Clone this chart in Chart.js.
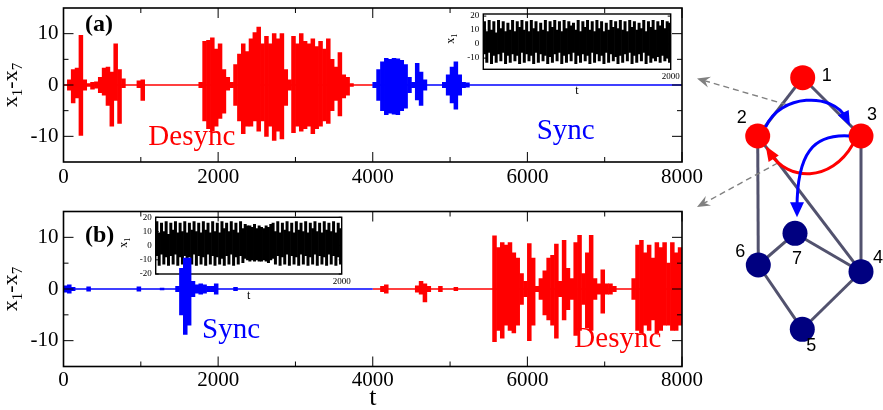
<!DOCTYPE html>
<html>
<head>
<meta charset="utf-8">
<script src="https://cdn.jsdelivr.net/npm/chart.js@4/dist/chart.umd.min.js"></script>
<style>
  body { margin: 0; background: #fff; }
  #wrap { position: relative; width: 883px; height: 410px; overflow: hidden; }
  canvas { position: absolute; }
</style>
</head>
<body>
<div id="wrap">
  <canvas id="insetA" style="left:430px;top:5px" width="260" height="95"></canvas>
  <canvas id="insetB" style="left:100px;top:210px" width="260" height="95"></canvas>
  <canvas id="panelA" style="left:0;top:0" width="720" height="200"></canvas>
  <canvas id="panelB" style="left:0;top:200px" width="720" height="210"></canvas>
  <canvas id="net" style="left:690px;top:50px" width="193" height="310"></canvas>
</div>
<script>
const SERIF = '"Liberation Serif", "Times New Roman", serif';
const SANS = '"Liberation Sans", Arial, sans-serif';
const RED = '#ff0000', BLUE = '#0000ff', NAVY = '#000080';

// axes of the two main panels
const xTicks = [0, 2000, 4000, 6000, 8000];
const yTicks = [-10, 0, 10];

// panel (a): envelope of x1-x7, 50-wide bins (bin centre, max, min)
const tA = [75,125,175,225,275,325,375,425,475,525,575,625,675,725,775,
  975,1025,
  1775,1825,1875,1925,1975,2025,2075,2125,2175,2225,2275,2325,2375,2425,2475,2525,2575,2625,2675,2725,
  2775,2825,2875,2925,2975,3025,3075,3125,3175,3225,3275,3325,3375,3425,3475,3525,3575,3625,3675,3725,
  4025,4075,4125,4175,4225,4275,4325,4375,4425,4475,4525,4575,4625,4675,
  4925,4975,5025,5075,5125,5175,5225];
const hiA = [1,3,3.3,9.7,1,0.3,0.5,0.6,1.5,3.3,3.5,2.5,8,3,1.2,
  0.8,1,
  0.5,8.5,8.7,9.2,7,8,3,1.5,0.5,4,6,8,6.5,9,10.2,11.3,8,9.5,8,10,
  9,10,3,1,9.5,8,10,8.5,8,9,7.5,8.5,7,9,5,3.5,6.3,2,1.5,0.3,
  0.5,3,4.5,5.2,5,5.2,5.1,4.8,4,1.5,0.5,4.2,2.5,1,
  0.5,2,3.5,4.5,2,0.5,0.4];
const loA = [-1,-3.5,-2.5,-9.8,-1,-0.3,-0.8,-0.6,-1.5,-2,-4,-8,-3,-7.5,-0.5,
  -0.5,-3,
  -0.5,-7,-8.5,-9,-8,-6.5,-5.5,-1,-0.5,-4,-7,-9.5,-8,-8,-7,-9,-7,-10,-8,-10.8,
  -9,-10.5,-4,-1,-9.3,-8,-9,-8.5,-8,-9.5,-8.5,-8,-7,-7.5,-5,-3,-6,-2.5,-2,-0.3,
  -0.5,-3,-5,-5.8,-5.5,-5.7,-5.8,-5,-4.5,-1.5,-0.5,-2.9,-4,-1,
  -0.5,-2,-3.5,-4.7,-2,-0.5,-0.4];
const switchA = 4000; // desync (red) before, sync (blue) after

// panel (b)
const tB = [25,75,125,325,975,1275,1475,1525,1575,1625,1675,1725,1775,1825,1875,1925,1975,2225,
  4125,4175,4575,4625,4675,4725,4875,5075,
  5575,5625,5675,5725,5775,5825,5875,5925,5975,6025,
  6075,6125,6175,6225,6275,6325,6375,6425,6475,6525,
  6575,6625,6675,6725,6775,6825,6875,6925,6975,7025,
  7075,7125,
  7375,7425,7475,7525,7575,7625,7675,7725,7775,7825,7875,7925,7975];
const hiB = [0.6,0.8,0.3,0.4,0.4,0.2,0.5,4,6,6,1.5,0.8,1,0.8,0.5,0.5,1,0.3,
  0.5,0.8,0.6,1.5,1,0.5,0.5,0.3,
  10.3,8,9,8.5,9,7,6,3,1.5,8.8,
  6,0.5,2,3.5,6,6.5,8.7,1.5,9.4,4,
  2,9,10.4,3,7,10.4,2,1,3.7,1,
  1,0.5,
  2,8.5,9.4,7,8.5,6,9,8,9,5,9,7,8];
const loB = [-0.6,-0.8,-0.3,-0.4,-0.4,-0.2,-0.5,-5,-8.8,-7,-1.5,-0.8,-1,-0.8,-0.5,-0.5,-1,-0.3,
  -0.5,-0.8,-0.6,-1,-2.5,-0.5,-0.5,-0.3,
  -10.2,-8,-9.5,-7,-8,-8.5,-7,-3,-1.5,-10,
  -7,-0.5,-2,-5,-6,-7,-9.5,-1.5,-6,-4,
  -2,-9,-8,-3,-7.5,-8,-2,-1,-4.7,-1,
  -1,-0.5,
  -2,-8,-8.5,-7,-8,-6,-8.5,-8,-7,-7,-8,-8,-7];
const switchB = 4000; // sync (blue) before, desync (red) after

// insets: x1 over 0..2000, 25-wide bins
const insetBin = 25;
const inAHi = [16,9,17,10,16,8,17,11,16,9,15,10,17,9,16,12,17,10,16,9,
  17,11,16,9,15,10,17,9,16,12,17,10,16,9,17,11,16,13,15,10,
  17,9,16,12,17,10,16,9,17,11,16,9,15,10,17,12,16,11,17,10,
  16,9,17,12,16,10,15,11,17,9,16,12,17,10,16,13,17,11,16,15];
const inALo = [-7,-13,-6,-14,-8,-13,-7,-12,-6,-14,-8,-13,-7,-12,-8,-14,-6,-13,-7,-12,
  -8,-14,-6,-13,-7,-12,-8,-14,-9,-13,-7,-12,-6,-14,-8,-13,-7,-12,-6,-14,
  -8,-13,-7,-12,-8,-14,-6,-13,-7,-12,-8,-14,-6,-13,-7,-12,-9,-14,-8,-13,
  -7,-12,-6,-14,-8,-13,-7,-12,-6,-14,-8,-13,-10,-12,-9,-13,-8,-12,-10,-13];
const inBHi = [17,9,16,10,17,8,16,11,17,9,16,10,17,9,16,11,17,10,16,9,
  17,11,16,9,17,10,16,9,17,12,16,10,17,11,16,9,17,12,15,14,
  14,13,15,12,14,13,12,14,13,15,16,10,17,9,16,11,17,10,16,9,
  17,11,16,10,17,9,16,12,17,10,16,9,17,11,16,10,17,9,16,12];
const inBLo = [-7,-14,-6,-13,-8,-14,-7,-13,-6,-14,-8,-13,-7,-14,-8,-13,-6,-14,-7,-13,
  -8,-14,-6,-13,-7,-14,-8,-13,-9,-14,-7,-13,-6,-14,-8,-13,-7,-12,-9,-10,
  -11,-10,-11,-10,-11,-11,-10,-11,-12,-10,-9,-13,-7,-14,-8,-13,-6,-14,-7,-13,
  -8,-14,-6,-13,-7,-14,-8,-13,-6,-14,-7,-13,-8,-14,-6,-13,-7,-14,-8,-13];
const inATicks = [-10, 0, 10, 20];
const inBTicks = [-20, -10, 0, 10, 20];

// network (layout coordinates)
const nodeX = [802.7, 757.7, 861, 861, 802.3, 758.3, 795];
const nodeY = [77.7, 136, 136, 271.7, 329.3, 265, 233.3];
const nodeSync = [false, false, false, true, true, true, true];
const edges = [[1,2],[1,3],[2,6],[3,4],[2,4],[6,7],[7,4],[6,5],[4,5]];

function fixAxis(dim, size) {
  return s => {
    s[dim] = size;
    s.paddingLeft = s.paddingRight = s.paddingTop = s.paddingBottom = 0;
  };
}

function drawTitle(ctx, cx, cy, parts) {
  ctx.save();
  ctx.translate(cx, cy);
  ctx.rotate(-Math.PI / 2);
  ctx.fillStyle = '#000';
  ctx.textBaseline = 'alphabetic';
  ctx.textAlign = 'left';
  let total = 0;
  parts.forEach(p => { ctx.font = p[1] + 'px ' + SERIF; total += ctx.measureText(p[0]).width; });
  let x = -total / 2;
  parts.forEach(p => {
    ctx.font = p[1] + 'px ' + SERIF;
    ctx.fillText(p[0], x, p[2]);
    x += ctx.measureText(p[0]).width;
  });
  ctx.restore();
}

function frameTicks(chart, lw, major, minor, sides) {
  const {ctx, chartArea: a, scales: {x, y}} = chart;
  ctx.save();
  ctx.strokeStyle = '#000';
  ctx.lineWidth = 1;
  const xs = x.ticks.map(t => t.value), ys = y.ticks.map(t => t.value);
  const mids = v => v.slice(1).map((b, i) => (b + v[i]) / 2);
  ctx.beginPath();
  const hx = (vals, len) => vals.forEach(v => {
    const p = x.getPixelForValue(v);
    ctx.moveTo(p, a.bottom); ctx.lineTo(p, a.bottom - len);
    ctx.moveTo(p, a.top); ctx.lineTo(p, a.top + len);
  });
  const vy = (vals, len) => vals.forEach(v => {
    const p = y.getPixelForValue(v);
    ctx.moveTo(a.left, p); ctx.lineTo(a.left + len, p);
    ctx.moveTo(a.right, p); ctx.lineTo(a.right - len, p);
  });
  if (sides.x) { hx(xs, major); hx(mids(xs), minor); }
  vy(ys, major);
  if (sides.yMinor) vy(mids(ys), minor);
  ctx.stroke();
  ctx.lineWidth = lw;
  ctx.strokeRect(a.left, a.top, a.right - a.left, a.bottom - a.top);
  ctx.restore();
}

function mainPanel(id, o) {
  const W = 720, left = 63.5, right = 682;
  const decor = {
    id: 'decor_' + id,
    afterDraw(chart) {
      const {ctx, chartArea: a, scales: {x, y}} = chart;
      frameTicks(chart, 1.6, 10, 5, {x: true, yMinor: true});
      drawTitle(ctx, 17, (a.top + a.bottom) / 2, [['x', 22, 0], ['1', 15, 5], ['-x', 22, 0], ['7', 15, 5]]);
      ctx.save();
      ctx.font = 'bold 24px ' + SERIF;
      ctx.fillStyle = '#000';
      ctx.textAlign = 'left';
      ctx.textBaseline = 'alphabetic';
      ctx.fillText(o.tag, 85, a.top + o.tagDy);
      ctx.font = '29px ' + SERIF;
      ctx.textAlign = 'center';
      o.notes.forEach(n => {
        ctx.fillStyle = n.color;
        ctx.fillText(n.text, x.getPixelForValue(n.t), y.getPixelForValue(n.v));
      });
      if (o.tTitle) {
        ctx.fillStyle = '#000';
        ctx.font = '26px ' + SERIF;
        ctx.fillText('t', (a.left + a.right) / 2, a.bottom + 38);
      }
      ctx.restore();
    }
  };
  return new Chart(document.getElementById(id), {
    type: 'bar',
    data: {
      datasets: [
        {
          type: 'bar',
          data: o.t.map((v, i) => ({x: v, y: [o.lo[i], o.hi[i]]})),
          backgroundColor: c => (c.raw && c.raw.x < o.sw) ? o.before : o.after,
          barPercentage: 1, categoryPercentage: 1, grouped: false
        },
        {type: 'line', data: [{x: 0, y: 0}, {x: o.sw, y: 0}], borderColor: o.before, borderWidth: 1.3, pointRadius: 0},
        {type: 'line', data: [{x: o.sw, y: 0}, {x: 8000, y: 0}], borderColor: o.after, borderWidth: 1.3, pointRadius: 0}
      ]
    },
    options: {
      responsive: false, animation: false, devicePixelRatio: 1,
      layout: {padding: {left: 0, top: o.top, right: W - right, bottom: 0}, autoPadding: false},
      plugins: {legend: {display: false}, tooltip: {enabled: false}},
      scales: {
        x: {
          type: 'linear', min: 0, max: 8000, offset: false,
          grid: {display: false, drawTicks: false}, border: {display: false},
          afterBuildTicks: s => { s.ticks = xTicks.map(v => ({value: v})); },
          afterFit: fixAxis('height', o.H - o.bottom),
          ticks: {font: {family: SERIF, size: 21}, color: '#000', padding: o.labelPad, maxRotation: 0, autoSkip: false, callback: v => String(v)}
        },
        y: {
          type: 'linear', min: -15, max: 15,
          grid: {display: false, drawTicks: false}, border: {display: false},
          afterBuildTicks: s => { s.ticks = yTicks.map(v => ({value: v})); },
          afterFit: fixAxis('width', left),
          ticks: {font: {family: SERIF, size: 21}, color: '#000', padding: 5, callback: v => String(v)}
        }
      }
    },
    plugins: [decor]
  });
}

function inset(id, o) {
  const decor = {
    id: 'decor_' + id,
    afterDraw(chart) {
      const {ctx, chartArea: a} = chart;
      frameTicks(chart, 1.4, 3, 0, {x: false, yMinor: false});
      drawTitle(ctx, a.left - 29, (a.top + a.bottom) / 2 - 3, [['x', 12, 0], ['1', 8, 3]]);
      ctx.save();
      ctx.fillStyle = '#000';
      ctx.font = '12px ' + SERIF;
      ctx.textAlign = 'center';
      ctx.textBaseline = 'middle';
      ctx.fillText('t', (a.left + a.right) / 2, a.bottom + 22);
      ctx.restore();
    }
  };
  return new Chart(document.getElementById(id), {
    type: 'bar',
    data: {
      datasets: [{
        data: o.hi.map((h, i) => ({x: insetBin * (i + 0.5), y: [o.lo[i], h]})),
        backgroundColor: '#000', barPercentage: 1, categoryPercentage: 1
      }]
    },
    options: {
      responsive: false, animation: false, devicePixelRatio: 1,
      layout: {padding: {left: 0, top: o.top, right: o.right, bottom: 0}, autoPadding: false},
      plugins: {legend: {display: false}, tooltip: {enabled: false}},
      scales: {
        x: {
          type: 'linear', min: 0, max: 2000, offset: false,
          grid: {display: false, drawTicks: false}, border: {display: false},
          afterBuildTicks: s => { s.ticks = [{value: 2000}]; },
          afterFit: fixAxis('height', o.xh),
          ticks: {font: {family: SERIF, size: 9}, color: '#000', padding: 2, maxRotation: 0, callback: v => String(v)}
        },
        y: {
          type: 'linear', min: o.ymin, max: o.ymax,
          grid: {display: false, drawTicks: false}, border: {display: false},
          afterBuildTicks: s => { s.ticks = o.ticks.map(v => ({value: v})); },
          afterFit: fixAxis('width', o.left),
          ticks: {font: {family: SERIF, size: 9}, color: '#000', padding: 4, callback: v => String(v)}
        }
      }
    },
    plugins: [decor]
  });
}

inset('insetA', {hi: inAHi, lo: inALo, ticks: inATicks, ymin: -18, ymax: 21.5, top: 9, right: 19.3, left: 53.3, xh: 30.7});
inset('insetB', {hi: inBHi, lo: inBLo, ticks: inBTicks, ymin: -20, ymax: 20, top: 7.3, right: 18.3, left: 55.7, xh: 31});

mainPanel('panelA', {
  t: tA, hi: hiA, lo: loA, sw: switchA, before: RED, after: BLUE,
  H: 200, top: 8, bottom: 162, labelPad: 3, tag: '(a)', tagDy: 23, tTitle: false,
  notes: [{text: 'Desync', t: 1660, v: -11.7, color: RED}, {text: 'Sync', t: 6495, v: -10.6, color: BLUE}]
});
mainPanel('panelB', {
  t: tB, hi: hiB, lo: loB, sw: switchB, before: BLUE, after: RED,
  H: 210, top: 11.5, bottom: 166.5, labelPad: 1.5, tag: '(b)', tagDy: 30, tTitle: true,
  notes: [{text: 'Sync', t: 2168, v: -9.4, color: BLUE}, {text: 'Desync', t: 7170, v: -11.3, color: RED}]
});

// network of 7 oscillators
const netDecor = {
  id: 'netDecor',
  afterDatasetsDraw(chart) {
    const {ctx, scales: {x, y}} = chart;
    const P = (i, dx = 0, dy = 0) => ({x: x.getPixelForValue(nodeX[i - 1]) + dx, y: y.getPixelForValue(nodeY[i - 1]) + dy});
    const head = (from, tip, len, half, color, stealth) => {
      const dx = tip.x - from.x, dy = tip.y - from.y, d = Math.hypot(dx, dy);
      const ux = dx / d, uy = dy / d;
      const bx = tip.x - ux * len, by = tip.y - uy * len;
      ctx.fillStyle = color;
      ctx.beginPath();
      ctx.moveTo(tip.x, tip.y);
      ctx.lineTo(bx - uy * half, by + ux * half);
      if (stealth) ctx.lineTo(tip.x - ux * len * 0.65, tip.y - uy * len * 0.65);
      ctx.lineTo(bx + uy * half, by - ux * half);
      ctx.closePath();
      ctx.fill();
      return {x: tip.x - ux * len * 0.6, y: tip.y - uy * len * 0.6};
    };
    ctx.save();
    // dashed pointers to the panels
    ctx.strokeStyle = '#808080';
    ctx.lineWidth = 1.4;
    const dash = [[P(1, -16, 27), {x: x.getPixelForValue(697), y: y.getPixelForValue(78.5)}],
                  [P(2, 20, 27), {x: x.getPixelForValue(697), y: y.getPixelForValue(207)}]];
    dash.forEach(([s, e]) => {
      ctx.setLineDash([6, 4]);
      const end = {x: e.x + (s.x - e.x) * 0.08, y: e.y + (s.y - e.y) * 0.08};
      ctx.beginPath(); ctx.moveTo(s.x, s.y); ctx.lineTo(end.x, end.y); ctx.stroke();
      ctx.setLineDash([]);
      head(s, e, 13, 5.5, '#808080', true);
    });
    ctx.setLineDash([]);
    // coupling arrows
    const arc = (p0, c1, c2, tip, color, len, half) => {
      const base = head(c2, tip, len, half, color, false);
      ctx.strokeStyle = color;
      ctx.lineWidth = 3;
      ctx.beginPath();
      ctx.moveTo(p0.x, p0.y);
      ctx.bezierCurveTo(c1.x, c1.y, c2.x, c2.y, base.x, base.y);
      ctx.stroke();
    };
    arc(P(2, 8, -9), P(2, 22, -42), P(3, -28, -44), P(3, -11, -10), BLUE, 15, 6);
    arc(P(3, -8, 8), P(3, -30, 47), P(2, 30, 45), P(2, 8, 10), RED, 15, 6);
    arc(P(3, -12, 0), P(3, -48, -2), P(7, 2, -80), P(7, 2, -16), BLUE, 15, 7);
    // node labels
    ctx.fillStyle = '#000';
    ctx.font = '18px ' + SANS;
    ctx.textAlign = 'center';
    ctx.textBaseline = 'middle';
    const off = [[24, -2], [-16, -18], [11, -21], [17, -14], [9, 17], [-18, -13], [2, 26]];
    off.forEach((d, i) => { const p = P(i + 1, d[0], d[1]); ctx.fillText(String(i + 1), p.x, p.y); });
    ctx.restore();
  }
};

new Chart(document.getElementById('net'), {
  type: 'scatter',
  data: {
    datasets: [
      {
        data: nodeX.map((v, i) => ({x: v, y: nodeY[i]})),
        pointRadius: 12.5, pointHoverRadius: 12.5, pointBorderWidth: 0,
        pointBackgroundColor: nodeSync.map(s => s ? NAVY : RED)
      },
      ...edges.map(([a, b]) => ({
        data: [{x: nodeX[a - 1], y: nodeY[a - 1]}, {x: nodeX[b - 1], y: nodeY[b - 1]}],
        showLine: true, borderColor: '#52526e', borderWidth: 3, pointRadius: 0
      }))
    ]
  },
  options: {
    responsive: false, animation: false, devicePixelRatio: 1,
    layout: {padding: 0, autoPadding: false},
    plugins: {legend: {display: false}, tooltip: {enabled: false}},
    scales: {
      x: {type: 'linear', min: 690, max: 883, display: false},
      y: {type: 'linear', min: 50, max: 360, reverse: true, display: false}
    }
  },
  plugins: [netDecor]
});
</script>
</body>
</html>
